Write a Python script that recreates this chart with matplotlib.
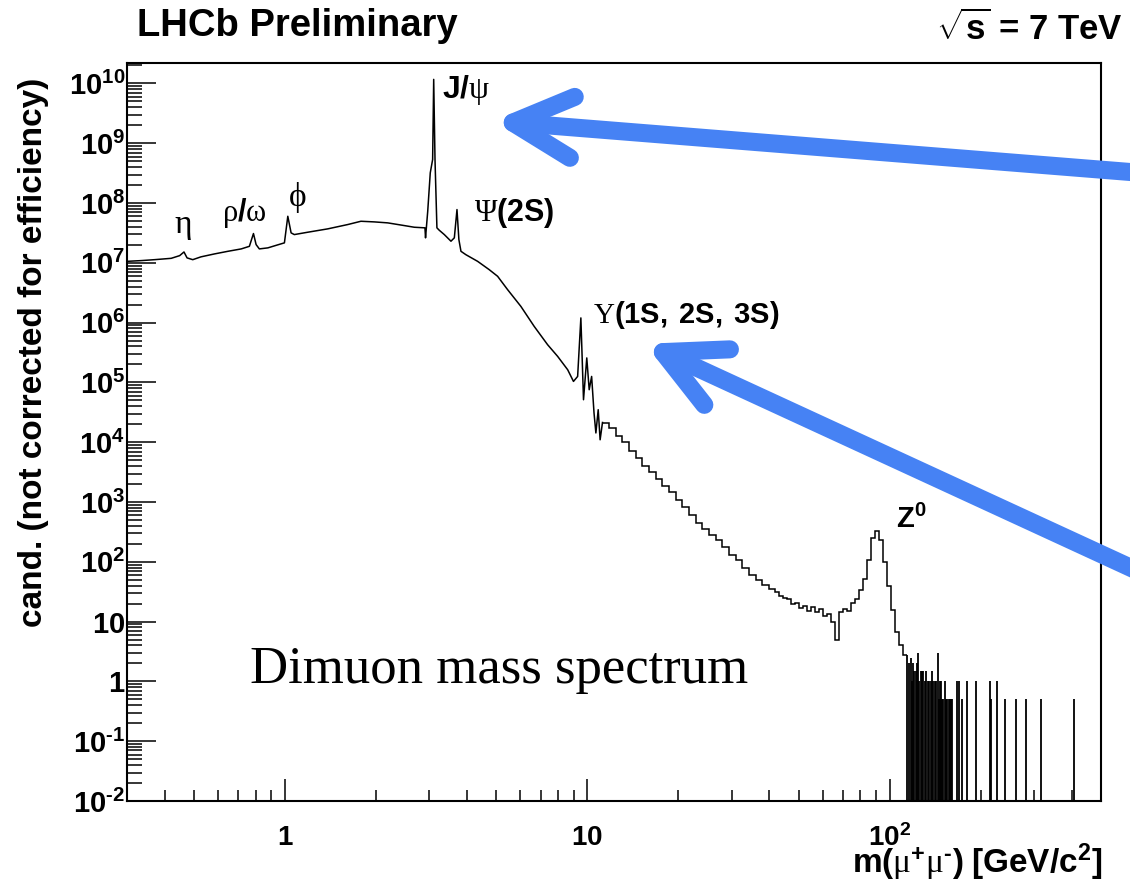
import numpy as np
import matplotlib
matplotlib.use("Agg")
import matplotlib.pyplot as plt
from matplotlib.patches import FancyArrowPatch
from matplotlib.ticker import FixedLocator, FixedFormatter, LogLocator, NullFormatter

plt.rcParams['font.family'] = ['Liberation Sans', 'DejaVu Sans']
plt.rcParams['mathtext.fontset'] = 'custom'
plt.rcParams['mathtext.rm'] = 'Liberation Serif'
plt.rcParams['mathtext.it'] = 'Liberation Serif:italic'
plt.rcParams['mathtext.bf'] = 'Liberation Sans:bold'
plt.rcParams['mathtext.sf'] = 'Liberation Sans'

# dimuon mass [GeV/c^2] vs candidates (fine binning region)
mass_lo = [0.300, 0.334, 0.370, 0.420, 0.448, 0.463, 0.474, 0.495, 0.527, 0.584,
           0.647, 0.716, 0.762, 0.786, 0.802, 0.822, 0.877, 0.946, 0.995, 1.021,
           1.047, 1.073, 1.188, 1.384, 1.612, 1.782, 1.973, 2.186, 2.480, 2.675,
           2.902, 2.915, 2.964, 3.022, 3.077, 3.102, 3.133, 3.179, 3.236, 3.363,
           3.538, 3.630, 3.704, 3.758, 3.818, 3.963, 4.334, 4.732, 5.047, 5.445,
           6.026, 6.668, 7.386, 7.973, 8.608, 8.995, 9.285, 9.517, 9.710, 9.955,
           10.14, 10.33, 10.52, 10.67, 10.86, 11.02, 11.22]
cand_lo = [1.06e7, 1.09e7, 1.13e7, 1.19e7, 1.32e7, 1.52e7, 1.21e7, 1.13e7, 1.26e7, 1.41e7,
           1.56e7, 1.71e7, 1.89e7, 3.09e7, 2.02e7, 1.71e7, 1.78e7, 2.00e7, 2.16e7, 6.01e7,
           3.17e7, 2.97e7, 3.25e7, 3.70e7, 4.37e7, 4.96e7, 4.84e7, 4.66e7, 4.20e7, 3.94e7,
           3.85e7, 2.62e7, 7.28e7, 3.20e8, 5.35e8, 1.17e10, 5.35e8, 3.85e7, 3.51e7, 2.97e7,
           2.30e7, 2.62e7, 7.78e7, 2.45e7, 1.56e7, 1.37e7, 1.06e7, 7.71e6, 5.96e6, 3.57e6,
           1.87e6, 8.67e5, 4.28e5, 2.73e5, 1.63e5, 1.04e5, 1.26e5, 1.20e6, 5.14e4, 2.57e5,
           7.56e4, 1.26e5, 3.08e4, 1.43e4, 3.50e4, 1.10e4, 2.14e4]

# coarser bins above the Upsilon region
edges_hi = [11.22, 11.80, 12.42, 13.06, 13.74, 14.46, 15.21, 16.00, 16.83, 17.71,
            18.63, 19.60, 20.61, 21.69, 22.81, 24.00, 25.25, 26.56, 27.94, 29.39,
            30.92, 32.53, 34.22, 36.00, 37.87, 39.84, 41.91, 43.20, 44.54, 45.92,
            47.34, 48.80, 50.31, 51.86, 53.47, 55.12, 56.83, 58.58, 60.40, 62.26,
            64.19, 66.17, 68.22, 70.33, 72.50, 74.75, 77.06, 79.44, 81.90, 84.43,
            87.04, 89.73, 92.51, 95.37, 98.32, 101.36, 104.50, 107.73, 111.06, 114.50]
cand_hi = [2.12e4, 1.75e4, 1.28e4, 1.02e4, 7.21e3, 5.50e3, 4.05e3, 3.21e3, 2.45e3, 1.87e3,
           1.49e3, 1.09e3, 834, 612, 450, 357, 283, 233, 178, 131,
           108, 79, 61, 50, 41, 35, 31.5, 27.0, 25.0, 24.0,
           19.8, 20.6, 17.0, 18.4, 15.1, 17.7, 14.6, 16.3, 12.5, 13.5,
           9.9, 4.95, 14.6, 16.3, 15.1, 20.6, 24.0, 34.0, 51.9, 108,
           252, 330, 233, 100, 39.6, 15.7, 6.7, 4.1, 2.8]

# sparse high-mass entries (bins in between are empty)
mass_tail = [114.5, 115.9, 117.3, 118.5, 119.7, 120.8, 121.9, 123.0, 124.1, 125.3,
             126.6, 127.9, 129.3, 130.7, 132.2, 133.5, 134.9, 136.6, 138.4, 139.6,
             140.9, 142.6, 144.4, 145.5, 146.6, 147.9, 149.3, 150.6, 152.0, 153.5,
             155.1, 156.6, 158.2, 159.7, 161.2, 166.5, 169.1, 173.9, 179.7, 192.4,
             214.6, 216.9, 227.0, 240.0, 260.9, 281.6, 317.4, 406.8]
cand_tail = [2.8, 2.0, 2.5, 1.0, 2.0, 1.5, 1.5, 2.0, 3.0, 1.0,
             1.5, 1.5, 1.5, 1.0, 1.5, 1.0, 1.0, 1.0, 1.5, 1.0,
             1.0, 1.0, 3.0, 0.5, 1.0, 1.0, 0.5, 0.5, 1.0, 0.5,
             0.5, 0.5, 0.5, 0.5, 0.5, 1.0, 1.0, 0.5, 1.0, 1.0,
             1.0, 0.5, 1.0, 0.5, 0.5, 0.5, 0.5, 0.5]

hy = '\u2010'
ytick_vals = [1e-2, 1e-1, 1, 10, 1e2, 1e3, 1e4, 1e5, 1e6, 1e7, 1e8, 1e9, 1e10]
ytick_text = [r'$\mathbf{10^{' + hy + '2}}$', r'$\mathbf{10^{' + hy + '1}}$', r'$\mathbf{1}$', r'$\mathbf{10}$',
              r'$\mathbf{10^{2}}$', r'$\mathbf{10^{3}}$', r'$\mathbf{10^{4}}$', r'$\mathbf{10^{5}}$',
              r'$\mathbf{10^{6}}$', r'$\mathbf{10^{7}}$', r'$\mathbf{10^{8}}$', r'$\mathbf{10^{9}}$',
              r'$\mathbf{10^{10}}$']
xtick_vals = [1, 10, 100]
xtick_text = [r'$\mathbf{1}$', r'$\mathbf{10}$', r'$\mathbf{10^{2}}$']

# resonance labels: text, mass, cand, alignment, size
labels = [
    (r'$\mathrm{\eta}$', 0.459, 4.1e7, 'center', 24),
    (r'$\mathrm{\rho}\mathbf{/}\mathrm{\omega}$', 0.734, 6.9e7, 'center', 22),
    (r'$\mathrm{\phi}$', 1.096, 1.24e8, 'center', 24),
    (r'$\mathbf{J/}\mathrm{\psi}$', 3.30, 7.9e9, 'left', 23),
    (r'$\mathrm{\Psi}\mathbf{(2S)}$', 4.23, 6.9e7, 'left', 22),
    (r'$\mathrm{\Upsilon}\mathbf{(1S,\ 2S,\ 3S)}$', 10.4, 1.36e6, 'left', 21),
    (r'$\mathbf{Z^{0}}$', 104.7, 505, 'left', 21),
]

fig = plt.figure(figsize=(11.3, 8.82), dpi=100)
ax = fig.add_axes([0.1124, 0.0918, 0.8619, 0.8368])
ax.set_xscale('log')
ax.set_yscale('log')

ax.plot(mass_lo, cand_lo, color='black', lw=1.1)
ax.stairs(cand_hi, edges_hi, color='black', lw=1.1, baseline=None)
ax.vlines(mass_tail, 1e-3, cand_tail, color='black', lw=1.3)

ax.set_xlim(0.3, 500)
ax.set_ylim(1e-2, 2.2e10)

ax.yaxis.set_major_locator(FixedLocator(ytick_vals))
ax.yaxis.set_major_formatter(FixedFormatter(ytick_text))
ax.yaxis.set_minor_locator(LogLocator(base=10, subs=np.arange(2, 10), numticks=100))
ax.yaxis.set_minor_formatter(NullFormatter())
ax.xaxis.set_major_locator(FixedLocator(xtick_vals))
ax.xaxis.set_major_formatter(FixedFormatter(xtick_text))
ax.xaxis.set_minor_locator(LogLocator(base=10, subs=np.arange(2, 10), numticks=100))
ax.xaxis.set_minor_formatter(NullFormatter())

ax.tick_params(which='both', direction='in', top=False, right=False, width=1.1)
ax.tick_params(axis='y', which='major', length=21, pad=1.5, labelsize=21)
ax.tick_params(axis='y', which='minor', length=11)
ax.tick_params(axis='x', which='major', length=15.6, pad=17, labelsize=20)
ax.tick_params(axis='x', which='minor', length=8)
for sp in ax.spines.values():
    sp.set_linewidth(1.5)

for txt, m, c, ha, fs in labels:
    ax.text(m, c, txt, ha=ha, va='center', fontsize=fs)

ax.text(0.1263, 0.160, 'Dimuon mass spectrum', transform=ax.transAxes,
        family='Liberation Serif', fontsize=38, va='baseline', ha='left')

fig.text(0.03, 0.601, 'cand. (not corrected for efficiency)', rotation=90,
         ha='center', va='center', fontsize=24, fontweight='bold')
fig.text(1102 / 1130, 1 - 873 / 882,
         r'$\mathbf{m(}\mathrm{\mu}^{\mathbf{+}}\mathrm{\mu}^{\mathbf{' + hy + r'}}\mathbf{)\ [GeV/c^{2}]}$',
         ha='right', va='baseline', fontsize=24)
fig.text(137 / 1130, 1 - 36 / 882, 'LHCb Preliminary', ha='left', va='baseline',
         fontsize=27.5, fontweight='bold')
fig.text(1123 / 1130, 1 - 40 / 882, r'$\sqrt{\mathbf{s}}$ = 7 TeV', ha='right', va='baseline',
         fontsize=25, fontweight='bold')

# blue arrows pointing at the J/psi and Upsilon labels
arrow_color = '#4682f4'
for tail, tip in [((1.005, 0.8045), (0.4363, 0.8628)),
                  ((1.005, 0.3537), (0.5707, 0.6102))]:
    fig.add_artist(FancyArrowPatch(posA=tail, posB=tip, transform=fig.transFigure,
                                   arrowstyle='->,head_length=4.3,head_width=2.2',
                                   mutation_scale=10, lw=13, color=arrow_color,
                                   capstyle='round', joinstyle='round',
                                   shrinkA=0, shrinkB=0))

fig.savefig('out.png', dpi=100)
